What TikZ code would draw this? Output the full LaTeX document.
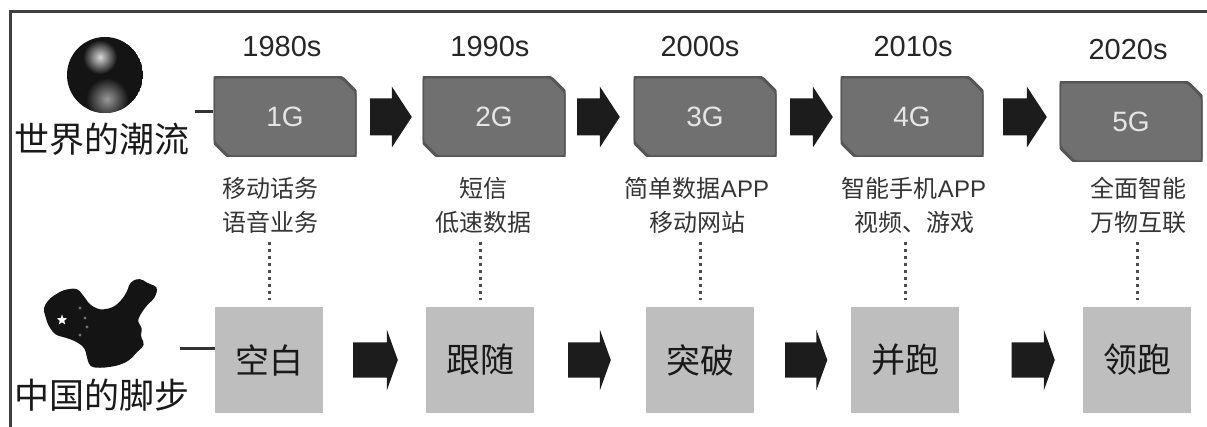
\documentclass[tikz,border=0pt]{standalone}
\usepackage{fontspec}
\setmainfont{Liberation Sans}
\newfontfamily\cjk{Noto Sans CJK SC}
\usepackage{xcolor}
\usetikzlibrary{positioning, calc, shapes.geometric}
\definecolor{genfill}{RGB}{112, 112, 112}
\definecolor{gendraw}{RGB}{86, 86, 86}
\definecolor{cnfill}{RGB}{190, 190, 190}
\definecolor{blkarrow}{RGB}{28, 28, 28}
\definecolor{txtgray}{RGB}{52, 52, 52}
\tikzset{
    genbox/.style={rectangle, minimum width=143pt, minimum height=80pt, inner sep=0pt,
        text=white!90!black, font=\fontsize{28}{28}\selectfont,
        path picture={
            \filldraw[fill=genfill, draw=gendraw, line width=3pt, rounded corners=3pt]
                (path picture bounding box.north west)
                -- ([xshift=-15pt]path picture bounding box.north east)
                -- ([yshift=-15pt]path picture bounding box.north east)
                -- (path picture bounding box.south east)
                -- ([xshift=15pt]path picture bounding box.south west)
                -- ([yshift=15pt]path picture bounding box.south west) -- cycle;
        }},
    cnbox/.style={rectangle, fill=cnfill, minimum width=108pt, minimum height=106pt,
        inner sep=0pt, text=black!90, font=\cjk\fontsize{34}{34}\selectfont},
    yearlabel/.style={text=black!85, font=\fontsize{29}{29}\selectfont},
    usagelabel/.style={align=center, text=txtgray, font=\cjk\fontsize{24}{34}\selectfont},
    sidelabel/.style={inner sep=0pt, text=black!90, font=\cjk\fontsize{35}{35}\selectfont},
    blockarrow/.style={fill=blkarrow},
    dotline/.style={draw=black!70, line width=3pt, dash pattern=on 3pt off 4pt},
    linkline/.style={draw=black!80, line width=3pt}
}
\begin{document}
\begin{tikzpicture}[x=1pt, y=-1pt]
    \useasboundingbox (0,0) rectangle (1207,427);
    % frame
    \draw[line width=3pt, black!75] (10,427) -- (10,12) -- (1207,12);

    % globe
    \begin{scope}
        \clip (105,75) circle (38);
        \fill[black!92] (105,75) circle (38);
        \shade[inner color=white!85!black, outer color=black!92] (100,57) circle (17);
        \shade[inner color=black!40, outer color=black!92] (107,99) circle (21);
    \end{scope}
    \node[sidelabel] (world) at (102,139) {世界的潮流};

    % china
    \fill[black!92, rounded corners=4pt] (43,308) -- (50,298) -- (63,290) -- (77,288) -- (83,295)
        -- (90,305) -- (100,310) -- (112,308) -- (120,302) -- (127,292) -- (130,282)
        -- (140,278) -- (147,283) -- (158,287) -- (155,298) -- (147,305) -- (140,315)
        -- (137,322) -- (143,328) -- (140,335) -- (145,345) -- (137,352) -- (130,360)
        -- (120,365) -- (110,367) -- (100,368) -- (90,367) -- (87,358) -- (85,348)
        -- (77,342) -- (67,338) -- (55,335) -- (48,325) -- (45,315) -- cycle;
    \node[star, star points=5, star point ratio=2.4, fill=white, inner sep=0pt, minimum size=11pt] (cnstar) at (62,320) {};
    \foreach \x/\y in {80/308, 85/318, 87/327, 80/335}
        \fill[black!55] (\x,\y) circle (1.6);
    \node[sidelabel] (china) at (102,395) {中国的脚步};

    % generations
    \node[genbox] (g1) at (285,117) {1G};
    \node[genbox] (g2) at (494,117) {2G};
    \node[genbox] (g3) at (705,117) {3G};
    \node[genbox] (g4) at (912,117) {4G};
    \node[genbox] (g5) at (1131,122) {5G};

    \node[yearlabel] (y1) at (282,47) {1980s};
    \node[yearlabel] (y2) at (490,47) {1990s};
    \node[yearlabel] (y3) at (700,47) {2000s};
    \node[yearlabel] (y4) at (913,47) {2010s};
    \node[yearlabel] (y5) at (1128,50) {2020s};

    \node[usagelabel] (u1) at (270,205) {移动话务\\语音业务};
    \node[usagelabel] (u2) at (483,205) {短信\\低速数据};
    \node[usagelabel] (u3) at (697,205) {简单数据{\fontspec{Liberation Sans}APP}\\移动网站};
    \node[usagelabel] (u4) at (914,205) {智能手机{\fontspec{Liberation Sans}APP}\\视频、游戏};
    \node[usagelabel] (u5) at (1138,205) {全面智能\\万物互联};

    % china steps
    \node[cnbox] (c1) at (269,360) {空白};
    \node[cnbox] (c2) at (480,360) {跟随};
    \node[cnbox] (c3) at (700,360) {突破};
    \node[cnbox] (c4) at (905,360) {并跑};
    \node[cnbox] (c5) at (1137,360) {领跑};

    % arrows: tail gap / tip gap / head length / half shaft / half head
    \foreach \a/\b/\l/\r/\h/\s/\w in {g1/g2/13.5/10.5/20/18.5/30.5, g2/g3/11.5/13.5/20/18.5/30.5,
            g3/g4/13.5/7.5/20/18.5/30.5, g4/g5/19.5/12.5/20/18.5/30.5,
            c1/c2/30/28/11/17.5/30.5, c2/c3/34/35/11/17.5/30.5,
            c3/c4/31/23.5/11/17.5/30.5, c4/c5/52.5/28/11/17.5/30.5} {
        \coordinate (s) at ($(\a.east)+(\l,0)$);
        \coordinate (e) at ($(\a.east -| \b.west)+(-\r,0)$);
        \fill[blockarrow] ($(s)+(0,-\s)$) -- ($(e)+(-\h,-\s)$) -- ($(e)+(-\h,-\w)$) -- (e)
            -- ($(e)+(-\h,\w)$) -- ($(e)+(-\h,\s)$) -- ($(s)+(0,\s)$) -- cycle;
    }

    % dotted links
    \foreach \i in {1,...,5}
        \draw[dotline, shorten <=5pt, shorten >=7pt] (c\i.north |- u\i.south) -- (c\i.north);

    % side links
    \coordinate (wl) at (195,112);
    \coordinate (cl) at (180,349);
    \draw[linkline] (wl) -- (wl -| g1.west);
    \draw[linkline] (cl) -- (cl -| c1.west);
\end{tikzpicture}
\end{document}
